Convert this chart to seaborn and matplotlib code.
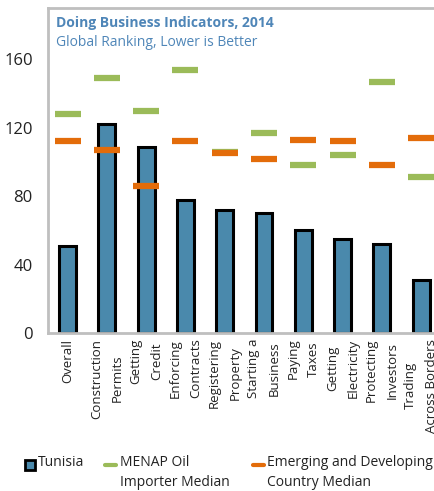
import numpy as np
import pandas as pd
import seaborn as sns
import matplotlib.pyplot as plt
from matplotlib.lines import Line2D
from matplotlib.patches import Rectangle

categories = ["Overall", "Construction\nPermits", "Getting\nCredit", "Enforcing\nContracts",
              "Registering\nProperty", "Starting a\nBusiness", "Paying\nTaxes", "Getting\nElectricity",
              "Protecting\nInvestors", "Trading\nAcross Borders"]
tunisia = [51, 122, 109, 78, 72, 70, 60, 55, 52, 31]
menap = [128, 149, 130, 154, 106, 117, 98, 104, 147, 91]
emerging = [112, 107, 86, 112, 105, 102, 113, 112, 98, 114]

df = pd.DataFrame({"cat": categories, "Tunisia": tunisia, "MENAP": menap, "EM": emerging})

sns.set_style("white")
plt.rcParams["font.family"] = ["Open Sans", "DejaVu Sans"]

blue = "#4A89AC"
green = "#9BBB59"
orange = "#E36C0A"
grey = "#BFBFBF"

fig = plt.figure(figsize=(4.35, 4.91), dpi=100)
W, H = 435, 491
ax = fig.add_axes([48 / W, 1 - 333 / H, 432 / W, 325 / H])

sns.barplot(data=df, x="cat", y="Tunisia", color=blue, width=0.43, edgecolor="black",
            linewidth=2.2, saturation=1, ax=ax)
sns.scatterplot(data=df, x="cat", y="MENAP", marker="_", s=330, linewidth=4.5, color=green, ax=ax, zorder=3)
sns.scatterplot(data=df, x="cat", y="EM", marker="_", s=330, linewidth=4.5, color=orange, ax=ax, zorder=4)

ax.set_xlim(-0.5, 10.5)
ax.set_ylim(0, 190)
ax.set_yticks([0, 40, 80, 120, 160])
ax.set_xlabel("")
ax.set_ylabel("")
ax.tick_params(axis="y", direction="in", length=4, width=1.5, color=grey, labelsize=12,
               labelcolor="#222222", pad=11)
ax.tick_params(axis="x", which="major", length=0, labelsize=9.5, pad=4, rotation=90,
               labelcolor="#222222")
ax.set_xticks(np.arange(0.5, 10.5, 1), minor=True)
ax.tick_params(axis="x", which="minor", direction="in", length=4, width=1.5, color=grey)
for lab in ax.get_xticklabels():
    lab.set_verticalalignment("top")
    lab.set_linespacing(1.75)
for s in ax.spines.values():
    s.set_color(grey)
    s.set_linewidth(2)

fig.text(56 / W, 1 - 23 / H, "Doing Business Indicators, 2014", color="#4F86B8",
         fontsize=10, fontweight="bold", va="center")
fig.text(56 / W, 1 - 42 / H, "Global Ranking, Lower is Better", color="#4F86B8",
         fontsize=10, va="center")

# legend, handles level with the first text line
fig.add_artist(Rectangle((25 / W, 1 - 470 / H), 10 / W, 10 / H, facecolor=blue,
                         edgecolor="black", linewidth=2, transform=fig.transFigure))
fig.add_artist(Line2D([105 / W, 116 / W], [1 - 465 / H] * 2, color=green, linewidth=3,
                      transform=fig.transFigure))
fig.add_artist(Line2D([253 / W, 264 / W], [1 - 465 / H] * 2, color=orange, linewidth=3,
                      transform=fig.transFigure))
leg_kw = dict(fontsize=10, va="top", linespacing=1.45, color="#222222")
fig.text(38 / W, 1 - 455 / H, "Tunisia", **leg_kw)
fig.text(120 / W, 1 - 455 / H, "MENAP Oil\nImporter Median", **leg_kw)
fig.text(267 / W, 1 - 455 / H, "Emerging and Developing\nCountry Median", **leg_kw)

plt.savefig("out.png", dpi=100)
